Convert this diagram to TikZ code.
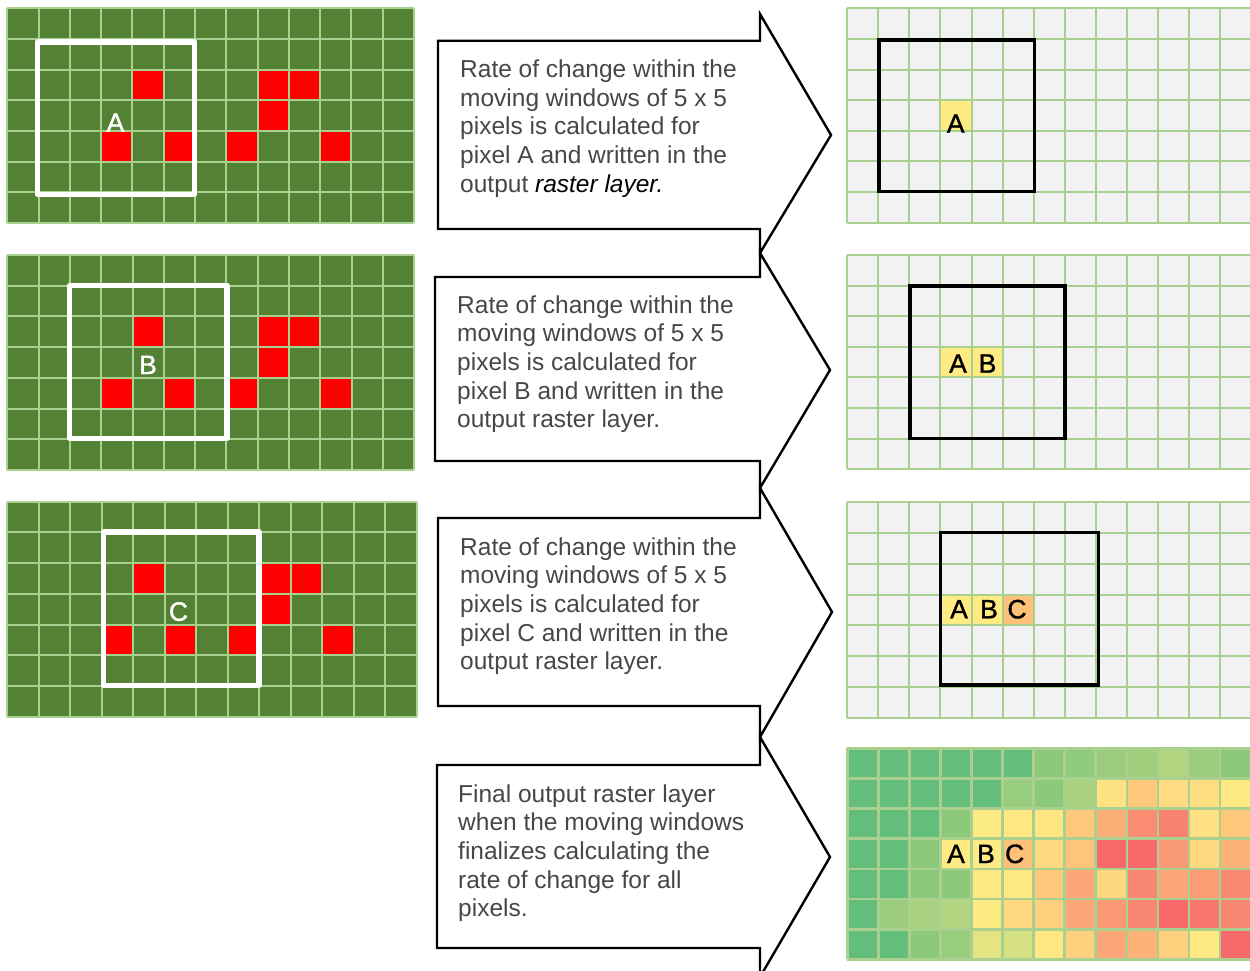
\documentclass[tikz,border=0pt]{standalone}
\usepackage{fontspec}
\setmainfont{Liberation Sans}
\newfontfamily\lblfont[FakeBold=1.3]{Liberation Sans}
\definecolor{dkg}{HTML}{548235}
\definecolor{lng}{HTML}{A9D08E}
\definecolor{pale}{HTML}{F2F2F2}
\definecolor{txtgray}{HTML}{474747}
\definecolor{ylw}{HTML}{FFEB84}
\definecolor{org}{HTML}{FFC07A}
\definecolor{redc}{HTML}{FF0000}
\newcommand\mkLeftGrid[4]{%
  \fill[dkg] (#1,#2) rectangle ++({13*#3},{7*#4});
  \foreach \c/\r in {4/2,8/2,9/2,8/3,3/4,5/4,7/4,10/4}
    \fill[redc] ({#1+\c*#3},{#2+\r*#4}) rectangle ++(#3,#4);
  \foreach \i in {0,...,13} \draw[gline] ({#1+\i*#3},#2) -- ++(0,{7*#4});
  \foreach \j in {0,...,7} \draw[gline] (#1,{#2+\j*#4}) -- ++({13*#3},0);
}
\newcommand\mkRightGrid[4]{%
  \fill[pale] (#1,#2) rectangle ++({13*#3},{7*#4});
}
\newcommand\mkRightLines[4]{%
  \foreach \i in {0,...,13} \draw[gline] ({#1+\i*#3},#2) -- ++(0,{7*#4});
  \foreach \j in {0,...,7} \draw[gline] (#1,{#2+\j*#4}) -- ++({13*#3},0);
}
\begin{document}
\begin{tikzpicture}[x=1pt,y=-1pt,
  gline/.style={lng,line width=2pt},
  wwin/.style={white,line width=5.5pt,line join=round},
  bwin/.style={black,line width=3.3pt},
  arrowshape/.style={draw=black,fill=white,line width=2.4pt,line join=miter},
  txt/.style={anchor=base west,inner sep=0pt,text=txtgray,font=\fontsize{24.5}{28.7}\selectfont},
  lblw/.style={anchor=base,inner sep=0pt,text=white,font=\lblfont\fontsize{26.5}{30}\selectfont},
  lblk/.style={anchor=base,inner sep=0pt,text=black,font=\lblfont\fontsize{26.5}{30}\selectfont}]
\useasboundingbox (0,0) rectangle (1250,970);
\fill[white] (0,0) rectangle (1250,970);

% ---------- left input grids ----------
\mkLeftGrid{7.3}{8.3}{31.28}{30.67}
\mkLeftGrid{7.3}{255}{31.3}{30.71}
\mkLeftGrid{7.3}{501.7}{31.49}{30.71}
\draw[wwin] (37.5,42) rectangle (194.5,194.5);
\draw[wwin] (69.7,285.3) rectangle (227,438.3);
\draw[wwin] (103.7,532) rectangle (258.8,685.5);
\node[lblw] (la) at (115.5,131.7) {A};
\node[lblw] (lb) at (148,374) {B};
\node[lblw] (lc) at (178.5,620.7) {C};

% ---------- right output grids ----------
\mkRightGrid{847.3}{8.3}{31.06}{30.63}
\fill[ylw] ({847.3+3*31.06},{8.3+3*30.63}) rectangle ++(31.06,30.63);
\mkRightLines{847.3}{8.3}{31.06}{30.63}

\mkRightGrid{847.3}{255}{31.06}{30.61}
\fill[ylw] ({847.3+3*31.06},{255+3*30.61}) rectangle ++({2*31.06},30.61);
\mkRightLines{847.3}{255}{31.06}{30.61}

\mkRightGrid{847.3}{502.3}{31.06}{30.77}
\fill[ylw] ({847.3+3*31.06},{502.3+3*30.77}) rectangle ++({2*31.06},30.77);
\fill[org] ({847.3+5*31.06},{502.3+3*30.77}) rectangle ++(31.06,30.77);
\mkRightLines{847.3}{502.3}{31.06}{30.77}

\draw[bwin] (879,40) rectangle (1034.2,191.7);
\draw[bwin] (910,286) rectangle (1065,438.3);
\draw[bwin] (940.7,532.7) rectangle (1098.3,685);

\node[lblk] (r1a) at (955.7,132.7) {A};
\node[lblk] (r2a) at (958,372.7) {A};
\node[lblk] (r2b) at (987.5,372.7) {B};
\node[lblk] (r3a) at (959,618.3) {A};
\node[lblk] (r3b) at (989,618.3) {B};
\node[lblk] (r3c) at (1017,618.3) {C};

% ---------- final heat map ----------
\foreach \row [count=\r from 0] in {
 {63BE7B,63BE7B,63BE7B,63BE7B,63BE7B,63BE7B,8CC97A,90CA7C,9BCC7C,A0CF7E,B1D580,9BCD7D,8CC97A},
 {63BE7B,63BE7B,63BE7B,63BE7B,63BE7B,98CD7E,8DC97B,A8D27F,FFE383,FFC97C,FFDB81,FFDE81,FFE983},
 {63BE7B,63BE7B,63BE7B,8CC97A,FCEA84,FFE883,FFE683,FFC97C,FCAE77,FA8C72,F9816F,FFE082,FFC97C},
 {63BE7B,63BE7B,8CC97A,FFEB84,FFEB84,FFC07A,FFD880,FFC47B,F8696B,F8696B,FA9A75,FFD880,FDB378},
 {63BE7B,63BE7B,8CC97A,8CC97A,FFE983,FFE983,FFC97C,FCA576,FFD680,F98670,FCA576,FA9C74,F98A71},
 {63BE7B,9BCC7C,A8D27F,B1D580,FFEB84,FFD880,FFD17F,FCA576,FB9974,F98670,F8696B,F8766D,F98670},
 {63BE7B,63BE7B,8CC97A,98CD7E,E5E483,D4E082,FFE783,FFD17F,FCA576,FDB378,FFD17F,FFE983,F8696B}} {
  \foreach \hex [count=\c from 0] in \row {
    \edef\tmpdef{\noexpand\definecolor{hc}{HTML}{\hex}}\tmpdef
    \fill[hc] ({847.3+\c*31.06},{748.3+\r*30.14}) rectangle ++(31.06,30.14);
  }
}
\foreach \i in {0,...,13} \draw[lng,line width=2.7pt] ({847.3+\i*31.06},748.3) -- ++(0,{7*30.14});
\foreach \j in {0,...,7} \draw[lng,line width=2.7pt] (847.3,{748.3+\j*30.14}) -- ++({13*31.06},0);
\node[lblk] (r4a) at (956,863) {A};
\node[lblk] (r4b) at (986,863) {B};
\node[lblk] (r4c) at (1014.7,863) {C};

% ---------- block arrows ----------
\draw[arrowshape] (438,40.7) -- (760,40.7) -- (760,14) -- (831,135) -- (760,253) -- (760,229) -- (438,229) -- cycle;
\draw[arrowshape] (435,277) -- (760,277) -- (760,253) -- (830,370) -- (760,488) -- (760,461) -- (435,461) -- cycle;
\draw[arrowshape] (438,518) -- (760,518) -- (760,488) -- (832,612) -- (760,737) -- (760,706) -- (438,706) -- cycle;
\draw[arrowshape] (437,765) -- (760,765) -- (760,737) -- (830,857) -- (760,977) -- (760,948) -- (437,948) -- cycle;

\foreach \l [count=\i from 0] in {Rate of change within the, moving windows of 5 x 5, pixels is calculated for, pixel A and written in the, output \textcolor{black}{\itshape raster layer.}}
  \node[txt] (ta\i) at (460,{77.3+28.7*\i}) {\l};
\foreach \l [count=\i from 0] in {Rate of change within the, moving windows of 5 x 5, pixels is calculated for, pixel B and written in the, output raster layer.}
  \node[txt] (tb\i) at (457,{313+28.7*\i}) {\l};
\foreach \l [count=\i from 0] in {Rate of change within the, moving windows of 5 x 5, pixels is calculated for, pixel C and written in the, output raster layer.}
  \node[txt] (tc\i) at (460,{555+28.7*\i}) {\l};
\foreach \l [count=\i from 0] in {Final output raster layer, when the moving windows, finalizes calculating the, rate of change for all, pixels.}
  \node[txt] (td\i) at (458,{802+28.7*\i}) {\l};
\end{tikzpicture}
\end{document}
